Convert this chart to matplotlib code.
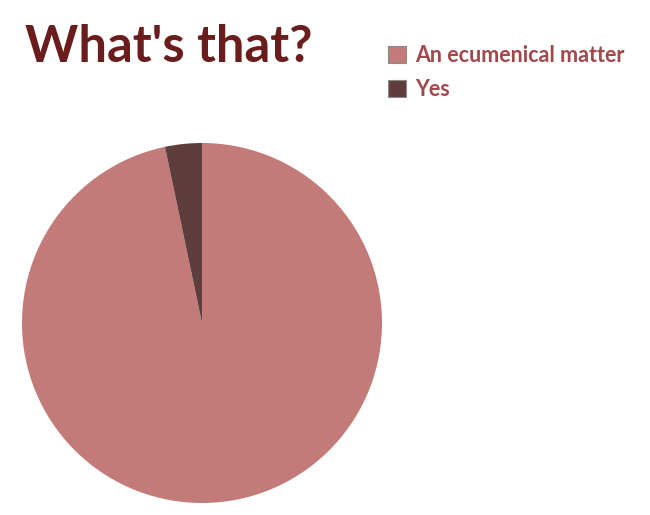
import matplotlib
matplotlib.use("Agg")
import matplotlib.pyplot as plt
from matplotlib.patches import Patch

labels = ["An ecumenical matter", "Yes"]
values = [96.7, 3.3]
colors = ["#c27b78", "#5f3d3d"]

fig = plt.figure(figsize=(6.5, 5.15), dpi=100)
ax = fig.add_axes([22 / 650, 1 - 503 / 515, 360 / 650, 360 / 515])
ax.pie(values, colors=colors, startangle=90, counterclock=False,
       wedgeprops=dict(linewidth=0))
ax.set_aspect("equal")
ax.set_xlim(-1, 1)
ax.set_ylim(-1, 1)
ax.axis("off")

fig.text(25 / 650, 1 - 62 / 515, "What's that?", fontsize=36.5, fontweight="bold",
         color="#6b1c1c", family="Lato", va="baseline", ha="left")

handles = [Patch(facecolor=c, edgecolor="#8a8a8a", linewidth=0.8) for c in colors]
leg = fig.legend(handles, labels, loc="upper left", bbox_to_anchor=(388 / 650, 1 - 45 / 515),
                 frameon=False, prop=dict(family="Lato", weight="bold", size=15.5),
                 borderpad=0, borderaxespad=0,
                 handlelength=0.85, handleheight=0.85, handletextpad=0.4, labelspacing=0.62)
for t in leg.get_texts():
    t.set_color("#a0484c")

fig.savefig("out.png", dpi=100)
